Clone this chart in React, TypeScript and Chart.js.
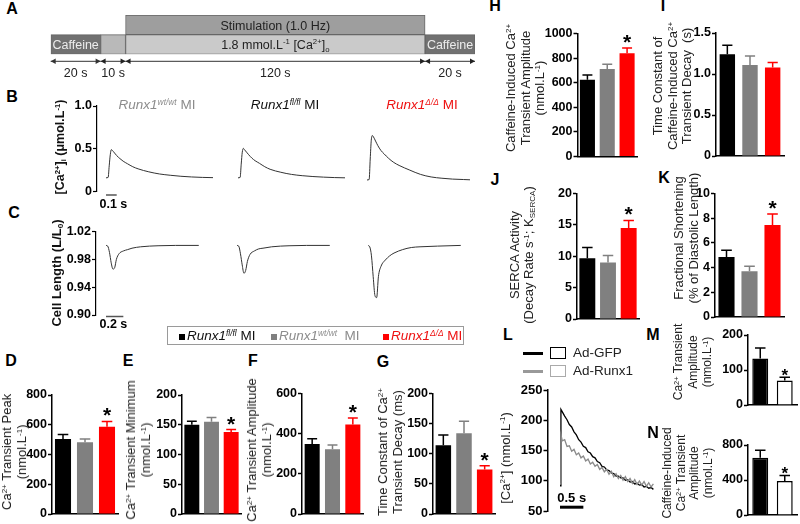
import React, { useEffect, useRef } from 'react';
import { Chart, registerables } from 'chart.js';
Chart.register(...registerables);

const FONT = "'Liberation Sans', Arial, Helvetica, sans-serif";

// ---------------- DATA ----------------
// Panel A protocol (seconds)
const protocolRows = ['Stimulation', 'Solution'];
const protocolStarts = [0, 20, 30, 150];
const protocolEnds = [20, 30, 150, 170];
const protocolDurations = ['20 s', '10 s', '120 s', '20 s'];
const stimulationWindow = [30, 150];

// Panel B: [Ca2+]i transients (µmol/L) vs time (s)
const bTime = [0, 0.02, 0.03, 0.04, 0.05, 0.06, 0.08, 0.1, 0.13, 0.16, 0.2, 0.25, 0.3, 0.4, 0.5, 0.6, 0.7, 0.8, 0.9, 1.0];
const bWt = [0.16, 0.165, 0.3, 0.43, 0.49, 0.48, 0.45, 0.42, 0.385, 0.355, 0.325, 0.29, 0.265, 0.23, 0.205, 0.19, 0.178, 0.17, 0.165, 0.162];
const bFl = [0.16, 0.165, 0.32, 0.46, 0.505, 0.49, 0.46, 0.43, 0.39, 0.36, 0.33, 0.29, 0.26, 0.225, 0.2, 0.185, 0.175, 0.168, 0.163, 0.16];
const bDelta = [0.135, 0.14, 0.38, 0.6, 0.655, 0.64, 0.59, 0.54, 0.48, 0.44, 0.39, 0.34, 0.305, 0.25, 0.2, 0.17, 0.155, 0.145, 0.14, 0.135];
const bTicks = [0, 0.5, 1.0];

// Panel C: cell length (L/L0) vs time (s)
const cTime = [0, 0.02, 0.04, 0.06, 0.08, 0.1, 0.12, 0.15, 0.2, 0.25, 0.3, 0.4, 0.5, 0.6, 0.8, 1.07];
const cWt = [1.0, 0.999, 0.99, 0.975, 0.966, 0.968, 0.98, 0.988, 0.992, 0.994, 0.996, 0.998, 0.999, 0.9995, 1.0, 1.0];
const cFl = [1.0, 0.999, 0.988, 0.972, 0.96, 0.964, 0.977, 0.987, 0.992, 0.995, 0.996, 0.998, 0.999, 0.9995, 1.0, 1.0];
const cDelta = [1.0, 0.998, 0.985, 0.955, 0.928, 0.925, 0.955, 0.97, 0.979, 0.985, 0.989, 0.994, 0.997, 0.998, 0.999, 1.0];
const cTicks = [0.9, 0.94, 0.98, 1.02];

// Panels D-K: group bars (fl/fl, wt/wt, Δ/Δ)
const groups = ['Runx1 fl/fl MI', 'Runx1 wt/wt MI', 'Runx1 Δ/Δ MI'];
const groupFill = ['#000000', '#808080', '#ff0000'];
const peakMean = [504, 482, 587];
const peakErr = [30, 22, 35];
const peakTicks = [0, 200, 400, 600, 800];
const minMean = [150, 155, 138];
const minErr = [6, 7, 4];
const minTicks = [0, 50, 100, 150, 200];
const ampMean = [348, 323, 446];
const ampErr = [27, 20, 32];
const ampTicks = [0, 200, 400, 600];
const tauMean = [114, 134, 74];
const tauErr = [17, 20, 6];
const tauTicks = [0, 50, 100, 150, 200];
const cafAmpMean = [625, 712, 840];
const cafAmpErr = [38, 38, 43];
const cafAmpTicks = [0, 200, 400, 600, 800, 1000];
const cafTauMean = [1.24, 1.11, 1.08];
const cafTauErr = [0.11, 0.11, 0.06];
const cafTauTicks = [0, 0.5, 1.0, 1.5];
const sercaMean = [9.7, 9.0, 14.5];
const sercaErr = [1.7, 1.1, 1.2];
const sercaTicks = [0, 5, 10, 15, 20];
const fsMean = [4.85, 3.7, 7.45];
const fsErr = [0.55, 0.4, 0.9];
const fsTicks = [0, 2, 4, 6, 8, 10];

// Panels L-N: adenovirus
const adGroups = ['Ad-GFP', 'Ad-Runx1'];
const lTime = [0, 0.02, 0.05, 0.1, 0.15, 0.2, 0.25, 0.3, 0.35, 0.4, 0.45, 0.5, 0.55, 0.6, 0.65, 0.7, 0.75, 0.8, 0.85, 0.9, 0.95, 1.0, 1.05, 1.1, 1.15, 1.2, 1.25, 1.3, 1.35, 1.4, 1.45, 1.5, 1.55, 1.6, 1.65, 1.7, 1.75, 1.8, 1.85, 1.9, 1.95, 2.0];
const lGfp = [92, 218, 214, 207, 201, 193, 189, 181, 176, 168, 164, 157, 155, 148, 146, 140, 138, 132, 130, 124, 123, 118, 117, 113, 112, 108, 108, 105, 105, 101, 102, 98, 99, 95, 96, 93, 94, 90, 91, 88, 89, 86];
const lRunx1 = [95, 176, 166, 168, 157, 158, 149, 152, 143, 146, 138, 141, 133, 136, 128, 131, 124, 127, 119, 122, 115, 119, 111, 116, 107, 112, 104, 109, 101, 107, 99, 104, 96, 102, 94, 100, 93, 99, 91, 97, 90, 95];
const lTicks = [50, 100, 150, 200, 250];
const adAmpMean = [133, 70];
const adAmpErr = [30, 9];
const adAmpTicks = [0, 100, 200];
const adCafMean = [655, 390];
const adCafErr = [85, 62];
const adCafTicks = [0, 400, 800];

// ---------------- HELPERS ----------------
function frame(axisX: number, topY: number, bottomY: number, rightX: number, labelW: number, padT: number, padB: number, padR: number) {
  const left = Math.floor(axisX - labelW);
  const top = Math.floor(topY - padT);
  const width = Math.ceil(rightX + padR) - left;
  const height = Math.ceil(bottomY + padB) - top;
  return {
    left, top, width, height,
    yW: axisX - left,
    pad: { top: topY - top, bottom: top + height - bottomY, right: left + width - rightX, left: 0 },
  };
}

const fmtInt = (v: number) => String(v);
const fmt1 = (v: number) => (v === 0 ? '0' : v.toFixed(1));
const fmt2 = (v: number) => v.toFixed(2);

function yAxis(ticks: number[], fmt: (v: number) => string, fr: any, size = 12.5, lw = 1.5) {
  return {
    type: 'linear',
    min: ticks[0],
    max: ticks[ticks.length - 1],
    afterBuildTicks: (s: any) => { s.ticks = ticks.map((v) => ({ value: v })); },
    afterFit: (s: any) => { s.width = fr.yW; },
    ticks: { color: '#000', font: { family: FONT, size, weight: 'bold' }, padding: 1, callback: (v: any) => fmt(Number(v)) },
    grid: { display: true, drawOnChartArea: false, drawTicks: true, tickLength: 4, tickWidth: lw, tickColor: '#000', color: '#000' },
    border: { display: true, color: '#000', width: lw },
  };
}

function drawRich(ctx: CanvasRenderingContext2D, parts: any[], cx: number, cy: number, size: number, color: string) {
  const fontFor = (p: any) => `${p.sup || p.sub ? size * 0.62 : size}px ${FONT}`;
  let total = 0;
  parts.forEach((p) => { ctx.font = fontFor(p); total += ctx.measureText(p.t).width; });
  let x = cx - total / 2;
  ctx.fillStyle = color;
  ctx.textAlign = 'left';
  ctx.textBaseline = 'alphabetic';
  const base = cy + size * 0.36;
  parts.forEach((p) => {
    ctx.font = fontFor(p);
    const dy = p.sup ? -size * 0.4 : p.sub ? size * 0.2 : 0;
    ctx.fillText(p.t, x, base + dy);
    x += ctx.measureText(p.t).width;
  });
}

// ---------------- CHART MAKERS ----------------
function makeProtocol(canvas: HTMLCanvasElement, fr: any) {
  const segFill = ['#717171', '#b9b9b9', '#cacaca', '#717171'];
  const datasets = [
    { data: [[stimulationWindow[0], stimulationWindow[1]], null], backgroundColor: '#9e9e9e' },
    ...protocolStarts.map((s, i) => ({ data: [null, [s, protocolEnds[i]]], backgroundColor: segFill[i] })),
  ].map((d) => ({ ...d, borderColor: '#666', borderWidth: 1, borderSkipped: false, grouped: false, barPercentage: 1, categoryPercentage: 1 }));
  const textPlugin = {
    id: 'protocolText',
    afterDatasetsDraw(chart: any) {
      const { ctx, scales: { x, y }, chartArea } = chart;
      const r0 = y.getPixelForValue(0);
      const r1 = y.getPixelForValue(1);
      ctx.save();
      drawRich(ctx, [{ t: 'Stimulation (1.0 Hz)' }], x.getPixelForValue((stimulationWindow[0] + stimulationWindow[1]) / 2), r0 + 0.5, 12.5, '#222');
      [0, 3].forEach((i) => {
        drawRich(ctx, [{ t: 'Caffeine' }], x.getPixelForValue((protocolStarts[i] + protocolEnds[i]) / 2), r1 + 0.5, 12.5, '#ececec');
      });
      drawRich(ctx, [{ t: '1.8 mmol.L' }, { t: '-1', sup: true }, { t: ' [Ca' }, { t: '2+', sup: true }, { t: ']' }, { t: 'o', sub: true }],
        x.getPixelForValue((protocolStarts[2] + protocolEnds[2]) / 2), r1 + 0.5, 12.5, '#222');
      const ay = chartArea.bottom + 7;
      ctx.strokeStyle = '#333';
      ctx.fillStyle = '#333';
      ctx.lineWidth = 1;
      protocolStarts.forEach((s, i) => {
        const xa = x.getPixelForValue(s);
        const xb = x.getPixelForValue(protocolEnds[i]);
        ctx.beginPath(); ctx.moveTo(xa, ay); ctx.lineTo(xb, ay); ctx.stroke();
        ctx.beginPath(); ctx.moveTo(xa, ay); ctx.lineTo(xa + 5, ay - 2.8); ctx.lineTo(xa + 5, ay + 2.8); ctx.closePath(); ctx.fill();
        ctx.beginPath(); ctx.moveTo(xb, ay); ctx.lineTo(xb - 5, ay - 2.8); ctx.lineTo(xb - 5, ay + 2.8); ctx.closePath(); ctx.fill();
        drawRich(ctx, [{ t: protocolDurations[i] }], (xa + xb) / 2, ay + 11.5, 12.5, '#222');
      });
      ctx.restore();
    },
  };
  return new Chart(canvas, {
    type: 'bar',
    data: { labels: protocolRows, datasets } as any,
    options: {
      indexAxis: 'y', animation: false, responsive: false, devicePixelRatio: 1,
      layout: { padding: fr.pad },
      plugins: { legend: { display: false }, tooltip: { enabled: false } },
      scales: { x: { type: 'linear', min: 0, max: 170, display: false }, y: { display: false } },
    } as any,
    plugins: [textPlugin],
  });
}

function makeBars(cfg: any) {
  return (canvas: HTMLCanvasElement, fr: any) => {
    const errPlugin = {
      id: 'errBars',
      afterDatasetsDraw(chart: any) {
        const { ctx, scales: { y } } = chart;
        const meta = chart.getDatasetMeta(0);
        ctx.save();
        meta.data.forEach((bar: any, i: number) => {
          const v = cfg.means[i];
          const top = y.getPixelForValue(v + cfg.errs[i]);
          const bt = y.getPixelForValue(v);
          const half = bar.width * 0.33;
          ctx.strokeStyle = cfg.stroke[i];
          ctx.lineWidth = 1.5;
          ctx.beginPath();
          ctx.moveTo(bar.x, bt); ctx.lineTo(bar.x, top);
          ctx.moveTo(bar.x - half, top); ctx.lineTo(bar.x + half, top);
          ctx.stroke();
          if (cfg.star.includes(i)) {
            ctx.fillStyle = '#000';
            ctx.font = `bold ${cfg.starSize}px ${FONT}`;
            ctx.textAlign = 'center';
            ctx.textBaseline = 'alphabetic';
            ctx.fillText('*', bar.x, top + cfg.starOff);
          }
        });
        ctx.restore();
      },
    };
    return new Chart(canvas, {
      type: 'bar',
      data: {
        labels: cfg.labels,
        datasets: [{ data: cfg.means, backgroundColor: cfg.fill, borderColor: cfg.stroke, borderWidth: cfg.borderW || 0, barPercentage: cfg.barPct, categoryPercentage: 1 }],
      },
      options: {
        animation: false, responsive: false, devicePixelRatio: 1,
        layout: { padding: fr.pad },
        plugins: { legend: { display: false }, tooltip: { enabled: false } },
        scales: {
          x: {
            type: 'category', offset: true,
            ticks: { display: false },
            grid: { display: false, drawTicks: false },
            border: { display: true, color: '#000', width: 1.5 },
            afterFit: (s: any) => { s.height = 0; },
          },
          y: yAxis(cfg.ticks, cfg.fmt || fmtInt, fr),
        },
      } as any,
      plugins: [errPlugin],
    });
  };
}

function makeTraces(cfg: any) {
  return (canvas: HTMLCanvasElement, fr: any) => {
    const barPlugin = {
      id: 'scaleBar',
      afterDraw(chart: any) {
        const { ctx, scales: { x }, chartArea } = chart;
        const sb = cfg.scaleBar;
        const x0 = x.getPixelForValue(sb.t0);
        const x1 = x.getPixelForValue(sb.t0 + sb.len);
        const yb = chartArea.bottom + sb.dy;
        ctx.save();
        ctx.strokeStyle = sb.color;
        ctx.lineWidth = sb.width;
        ctx.beginPath(); ctx.moveTo(x0, yb); ctx.lineTo(x1, yb); ctx.stroke();
        ctx.fillStyle = '#000';
        ctx.font = `bold ${sb.size}px ${FONT}`;
        ctx.textBaseline = 'middle';
        if (sb.align === 'center') { ctx.textAlign = 'center'; ctx.fillText(sb.label, (x0 + x1) / 2, chartArea.bottom + sb.ty); }
        else { ctx.textAlign = 'left'; ctx.fillText(sb.label, x0 - 6.5, chartArea.bottom + sb.ty); }
        ctx.restore();
      },
    };
    return new Chart(canvas, {
      type: 'line',
      data: {
        datasets: cfg.series.map((s: any) => ({
          data: s.time.map((t: number, i: number) => ({ x: t + s.offset, y: s.values[i] })),
          borderColor: s.color, borderWidth: s.width, pointRadius: 0, fill: false,
          cubicInterpolationMode: s.smooth ? 'monotone' : 'default', tension: 0,
        })),
      },
      options: {
        animation: false, responsive: false, devicePixelRatio: 1,
        layout: { padding: fr.pad },
        plugins: { legend: { display: false }, tooltip: { enabled: false } },
        scales: {
          x: { type: 'linear', min: cfg.xMin, max: cfg.xMax, display: false },
          y: yAxis(cfg.ticks, cfg.fmt, fr, cfg.tickSize || 12.5, cfg.axisW || 1.5),
        },
      } as any,
      plugins: [barPlugin],
    });
  };
}

// ---------------- LAYOUT ----------------
const frA = { left: 40, top: 5, width: 445, height: 80, yW: 0, pad: { left: 10.7, top: 10, right: 10, bottom: 30.7 } };

const bAxis = 97, bPx = 107;
const frB = frame(bAxis, 106, 191.5, 470, 40, 10, 24, 2);
const bOff = [106, 238, 367].map((p) => (p - bAxis) / bPx);
const cAxis = 96, cPx = 86.7;
const frC = frame(cAxis, 231.5, 315, 470, 40, 10, 16, 2);
const cOff = [106, 237, 368].map((p) => (p - cAxis) / cPx);
const lAxis = 547.5, lPx = 46.7;
const frL = frame(lAxis, 390, 511.5, 660, 42, 10, 8, 2);
const lStart = -(560 - lAxis) / lPx;

const BIG = { starSize: 21, starOff: 1 };
const SMALL = { starSize: 17, starOff: 4 };
const bar3 = { labels: groups, fill: groupFill, stroke: groupFill, star: [2], ...BIG };
const bar2 = { labels: adGroups, fill: ['#000000', '#ffffff'], stroke: ['#000000', '#000000'], borderW: 1.5, star: [1], barPct: 0.65, ...SMALL };

const panels: any[] = [
  { fr: frA, make: makeProtocol },
  {
    fr: frB, make: makeTraces({
      xMin: 0, xMax: (470 - bAxis) / bPx, ticks: bTicks, fmt: fmt1, axisW: 1.2,
      series: [bWt, bFl, bDelta].map((v, i) => ({ time: bTime, values: v, offset: bOff[i], color: '#333', width: 1, smooth: true })),
      scaleBar: { t0: bOff[0], len: 0.1, dy: 3.5, color: '#555', width: 1.5, label: '0.1 s', size: 12.5, ty: 13.5, align: 'left' },
    }),
  },
  {
    fr: frC, make: makeTraces({
      xMin: 0, xMax: (470 - cAxis) / cPx, ticks: cTicks, fmt: fmt2, axisW: 1.2,
      series: [cWt, cFl, cDelta].map((v, i) => ({ time: cTime, values: v, offset: cOff[i], color: '#333', width: 1, smooth: true })),
      scaleBar: { t0: cOff[0], len: 0.2, dy: 1.5, color: '#555', width: 1.5, label: '0.2 s', size: 12.5, ty: 10, align: 'left' },
    }),
  },
  {
    fr: frL, make: makeTraces({
      xMin: lStart, xMax: lStart + (660 - lAxis) / lPx, ticks: lTicks, fmt: fmtInt, tickSize: 13,
      series: [
        { time: lTime, values: lRunx1, offset: 0, color: '#8a8a8a', width: 1.3 },
        { time: lTime, values: lGfp, offset: 0, color: '#000', width: 1.3 },
      ],
      scaleBar: { t0: 0, len: 0.5, dy: -4, color: '#000', width: 3, label: '0.5 s', size: 13, ty: -12.5, align: 'center' },
    }),
  },
  { fr: frame(52, 395, 514, 118, 40, 22, 9, 4), make: makeBars({ ...bar3, means: peakMean, errs: peakErr, ticks: peakTicks, barPct: 0.73 }) },
  { fr: frame(182, 395, 514, 241, 40, 22, 9, 4), make: makeBars({ ...bar3, means: minMean, errs: minErr, ticks: minTicks, barPct: 0.76 }) },
  { fr: frame(302, 393.5, 514, 363, 40, 22, 9, 4), make: makeBars({ ...bar3, means: ampMean, errs: ampErr, ticks: ampTicks, barPct: 0.74 }) },
  { fr: frame(433, 393.5, 514, 495, 40, 22, 9, 4), make: makeBars({ ...bar3, means: tauMean, errs: tauErr, ticks: tauTicks, barPct: 0.75 }) },
  { fr: frame(577.5, 33.5, 156.5, 637, 40, 22, 9, 4), make: makeBars({ ...bar3, means: cafAmpMean, errs: cafAmpErr, ticks: cafAmpTicks, barPct: 0.76 }) },
  { fr: frame(716, 33, 156, 784, 40, 22, 9, 4), make: makeBars({ ...bar3, star: [], means: cafTauMean, errs: cafTauErr, ticks: cafTauTicks, fmt: fmt1, barPct: 0.68 }) },
  { fr: frame(577, 193.5, 319, 639, 40, 22, 9, 4), make: makeBars({ ...bar3, means: sercaMean, errs: sercaErr, ticks: sercaTicks, barPct: 0.77 }) },
  { fr: frame(715, 193.5, 317, 784, 40, 22, 9, 4), make: makeBars({ ...bar3, means: fsMean, errs: fsErr, ticks: fsTicks, barPct: 0.7 }) },
  { fr: frame(748, 335, 405, 797, 40, 20, 9, 3), make: makeBars({ ...bar2, means: adAmpMean, errs: adAmpErr, ticks: adAmpTicks }) },
  { fr: frame(748, 445, 515, 797, 40, 20, 9, 3), make: makeBars({ ...bar2, means: adCafMean, errs: adCafErr, ticks: adCafTicks }) },
];

// ---------------- COMPONENTS ----------------
function ChartCanvas({ fr, make }: any) {
  const ref = useRef<HTMLCanvasElement>(null);
  useEffect(() => {
    const chart = make(ref.current as HTMLCanvasElement, fr);
    return () => chart.destroy();
  }, []);
  return (
    <canvas ref={ref} width={fr.width} height={fr.height}
      style={{ position: 'absolute', left: fr.left, top: fr.top, width: fr.width, height: fr.height }} />
  );
}

const Sup = ({ children }: any) => <span style={{ fontSize: '0.62em', verticalAlign: '0.5em', lineHeight: 0 }}>{children}</span>;
const Sub = ({ children }: any) => <span style={{ fontSize: '0.62em', verticalAlign: '-0.3em', lineHeight: 0 }}>{children}</span>;

function Txt({ x, y, size = 13, bold = false, color = '#222', align = 'center', children }: any) {
  return (
    <div style={{
      position: 'absolute', left: x, top: y, whiteSpace: 'nowrap', color,
      font: `${bold ? 'bold ' : ''}${size}px ${FONT}`, lineHeight: `${size}px`,
      transform: align === 'center' ? 'translate(-50%,-50%)' : 'translate(0,-50%)',
    }}>{children}</div>
  );
}

function VTitle({ x, y, size = 13, bold = false, lh = 15, color = '#222', lines }: any) {
  return (
    <div style={{
      position: 'absolute', left: x, top: y, whiteSpace: 'nowrap', color, textAlign: 'center',
      font: `${bold ? 'bold ' : ''}${size}px ${FONT}`, lineHeight: `${lh}px`,
      transform: 'translate(-50%,-50%) rotate(-90deg)',
    }}>
      {lines.map((l: any, i: number) => <div key={i}>{l}</div>)}
    </div>
  );
}

const Ca = () => <>Ca<Sup>2+</Sup></>;
const Nmol = () => <>(nmol.L<Sup>-1</Sup>)</>;

function Letter({ x, y, children }: any) {
  return <Txt x={x} y={y} size={16} bold color="#000">{children}</Txt>;
}

function Runx({ sup }: any) {
  return <><i>Runx1</i><Sup><i>{sup}</i></Sup> MI</>;
}

export default function App() {
  return (
    <div style={{ position: 'absolute', left: 0, top: 0, width: 800, height: 524, background: '#fff', overflow: 'hidden', fontFamily: FONT }}>
      {panels.map((p, i) => <ChartCanvas key={i} fr={p.fr} make={p.make} />)}

      {/* panel letters */}
      <Letter x={12} y={9}>A</Letter>
      <Letter x={12} y={96.5}>B</Letter>
      <Letter x={14} y={213}>C</Letter>
      <Letter x={11} y={361}>D</Letter>
      <Letter x={128} y={361}>E</Letter>
      <Letter x={253} y={361}>F</Letter>
      <Letter x={383} y={361.5}>G</Letter>
      <Letter x={495} y={6}>H</Letter>
      <Letter x={663} y={6}>I</Letter>
      <Letter x={495} y={180}>J</Letter>
      <Letter x={664} y={178}>K</Letter>
      <Letter x={508} y={335}>L</Letter>
      <Letter x={653} y={335}>M</Letter>
      <Letter x={653} y={432.5}>N</Letter>

      {/* B genotype labels */}
      <Txt x={157} y={105} size={13.5} color="#8c8c8c"><Runx sup="wt/wt" /></Txt>
      <Txt x={285} y={105} size={13.5} color="#111"><Runx sup="fl/fl" /></Txt>
      <Txt x={422} y={105} size={13.5} color="#ee1111"><Runx sup="Δ/Δ" /></Txt>

      {/* B, C axis titles */}
      <VTitle x={60} y={147} size={12.5} bold color="#111" lines={[<>[<Ca />]<Sub>i</Sub> (μmol.L<Sup>-1</Sup>)</>]} />
      <VTitle x={56} y={273} size={13} bold color="#111" lines={[<>Cell Length (L/L<Sub>0</Sub>)</>]} />

      {/* legend box */}
      <div style={{ position: 'absolute', left: 167, top: 326, width: 297, height: 19, border: '1px solid #9a9a9a', boxSizing: 'border-box' }} />
      <div style={{ position: 'absolute', left: 179, top: 333.5, width: 6, height: 6, background: '#000' }} />
      <Txt x={187} y={336} size={13.5} align="left" color="#111"><Runx sup="fl/fl" /></Txt>
      <div style={{ position: 'absolute', left: 271, top: 333.5, width: 6, height: 6, background: '#808080' }} />
      <Txt x={279} y={336} size={13.5} align="left" color="#8c8c8c"><i>Runx1</i><Sup><i>wt/wt</i></Sup>&nbsp; MI</Txt>
      <div style={{ position: 'absolute', left: 383, top: 333.5, width: 6, height: 6, background: '#ff0000' }} />
      <Txt x={391} y={336} size={13.5} align="left" color="#ee1111"><Runx sup="Δ/Δ" /></Txt>

      {/* D-G titles */}
      <VTitle x={13.5} y={452} lines={[<><Ca /> Transient Peak</>, <Nmol />]} />
      <VTitle x={138} y={450} lines={[<><Ca /> Transient Minimum</>, <Nmol />]} />
      <VTitle x={259} y={450} lines={[<><Ca /> Transient Amplitude</>, <Nmol />]} />
      <VTitle x={390} y={452} lines={[<>Time Constant of <Ca /></>, <>Transient Decay (ms)</>]} />

      {/* H-K titles */}
      <VTitle x={526} y={88} lh={14.5} lines={[<>Caffeine-Induced <Ca /></>, <>Transient Amplitude</>, <Nmol />]} />
      <VTitle x={673} y={86} lh={14.5} lines={[<>Time Constant of</>, <>Caffeine-Induced <Ca /></>, <>Transient Decay&nbsp; (s)</>]} />
      <VTitle x={522} y={255} lh={14} lines={[<>SERCA Activity</>, <>(Decay Rate s<Sup>-1</Sup>; K<Sub>SERCA</Sub>)</>]} />
      <VTitle x={686} y={238} lh={15} lines={[<>Fractional Shortening</>, <>(% of Diastolic Length)</>]} />

      {/* L legend and title */}
      <div style={{ position: 'absolute', left: 523, top: 351.5, width: 20, height: 3, background: '#000' }} />
      <div style={{ position: 'absolute', left: 550, top: 347, width: 16, height: 12, border: '1.5px solid #000', boxSizing: 'border-box' }} />
      <Txt x={573} y={353} size={13.5} align="left">Ad-GFP</Txt>
      <div style={{ position: 'absolute', left: 523, top: 369.5, width: 20, height: 3, background: '#999' }} />
      <div style={{ position: 'absolute', left: 550, top: 365, width: 16, height: 12, border: '1.5px solid #aaa', boxSizing: 'border-box' }} />
      <Txt x={573} y={371} size={13.5} align="left">Ad-Runx1</Txt>
      <VTitle x={505} y={458} size={13} lines={[<>[<Ca />] (nmol.L<Sup>-1</Sup>)</>]} />

      {/* M, N titles */}
      <VTitle x={693} y={362} size={12} lh={14.5} lines={[<><Ca /> Transient</>, <>Amplitude</>, <Nmol />]} />
      <VTitle x={688} y={473} size={12} lh={13.5} lines={[<>Caffeine-Induced</>, <><Ca /> Transient</>, <>Amplitude</>, <Nmol />]} />
    </div>
  );
}
